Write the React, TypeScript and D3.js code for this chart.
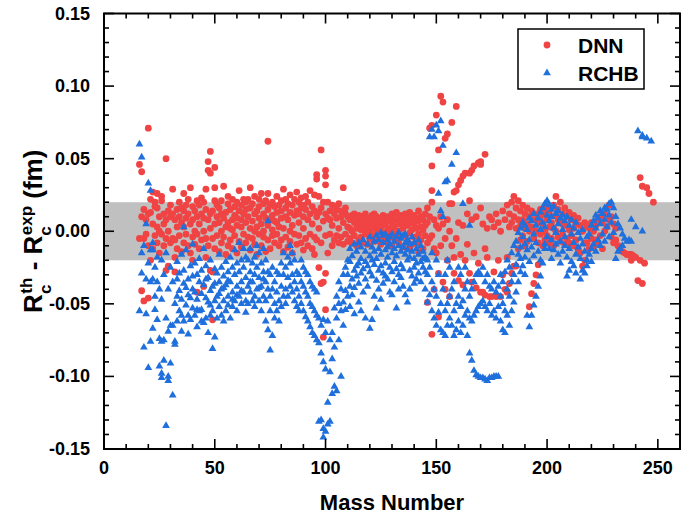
import React from 'react';
import * as d3 from 'd3';

// values, in units of 1e-3 fm, grouped by mass number
const dnnRows: [number, number[]][] = [
  [16, [46, -5]], [17, [41, -41, 10]], [18, [15, -48, -5]], [19, [-2, 8]], [20, [71, -46, 12, -10]],
  [21, [22, 13, -20]], [22, [27, 5, -12]], [23, [17, -3, 20]], [24, [26, 16, -8, 3]], [25, [10, -15, 0]],
  [26, [24, 21, -2]], [27, [5, -10, 12]], [28, [50, -27, 8, -5]], [29, [-24, 0, 14]], [30, [10, -8, 18]],
  [31, [-5, 12, 29]], [32, [-6, -18, -28, 8]], [33, [3, 15, -12]], [34, [20, -3, 10]], [35, [6, -14, 16]],
  [36, [26, 3, -8, 14]], [37, [-2, 18, 9]], [38, [12, -10, 22]], [39, [30, 5, -15]], [40, [8, -4, 17, -20]],
  [41, [14, 0, -9]], [42, [-42, 10, 21, -2]], [43, [5, 18, -12]], [44, [23, -6, 12]], [45, [-38, 9, 20, 0]],
  [46, [29, 15, -5, -18]], [47, [48, 42, 8, -10]], [48, [55, 40, -27, 12, 2]], [49, [-61, -28, 14, -5]], [50, [44, 30, 21, 5, -12]],
  [51, [10, -3, 18]], [52, [16, -14, 6]], [53, [21, 0, -8, 12]], [54, [31, 9, -4]], [55, [13, -16, 3]],
  [56, [19, 6, -10, 24]], [57, [2, 15, -6]], [58, [22, -12, 8, 1]], [59, [11, -3, 17]], [60, [20, 4, -15, 9]],
  [61, [14, -7, 28]], [62, [3, 18, -11, 8]], [63, [12, -2, 22]], [64, [20, 6, -8, 15]], [65, [-4, 10, 22]],
  [66, [16, -13, 2, 30]], [67, [7, 19, -5]], [68, [24, -9, 12, 0]], [69, [14, 3, -16]], [70, [22, -2, 9, 17]],
  [71, [5, 26, -10]], [72, [19, 12, -4, 0]], [73, [9, 21, -14]], [74, [62, 26, 15, -6, 4]], [75, [18, 8, -12]],
  [76, [20, -3, 11, 1]], [77, [7, 17, -8]], [78, [24, 13, -2, 6]], [79, [18, -10, 3]], [80, [21, 9, -6, 14]],
  [81, [29, 2, -14]], [82, [16, -4, 10, 22]], [83, [8, -11, 19]], [84, [25, 13, 0, -7]], [85, [18, 4, -15]],
  [86, [22, -2, 11]], [87, [14, 27, -9]], [88, [20, 6, -3, 12]], [89, [16, -8, 23]], [90, [10, 2, -13, 18]],
  [91, [15, -5, 24]], [92, [20, 8, -10]], [93, [12, -2, 28]], [94, [17, 5, -12]], [95, [25, 14, -4, -16]],
  [96, [36, 39, 10, -6]], [97, [24, -25, 13, 2]], [98, [56, -36, 16, -8]], [99, [-73, -35, 7, 20]], [100, [42, 38, 32, -54, 12, -3, -29]],
  [101, [9, -15, 20]], [102, [14, -2, 8]], [103, [18, 4, -10]], [104, [12, -6, 17]], [105, [9, 15, -3]],
  [106, [19, 2, -8]], [107, [14, -4, 10]], [108, [30, 6, -9]], [109, [12, -2, 16]], [110, [10, 3, -7]],
  [111, [8, -5, 2]], [112, [11, 0, -8]], [113, [6, -3, 12]], [114, [9, 2, -10]], [115, [5, -6, 11]],
  [116, [10, 1, -4, 6]], [117, [4, -8, 9]], [118, [7, -2, 12, 0]], [119, [3, -9, 8]], [120, [9, 0, -5, 5]],
  [121, [6, -3, 11]], [122, [2, -7, 8, 12]], [123, [5, -2, 10]], [124, [8, 1, -6, 4]], [125, [3, -9, 9]],
  [126, [6, -1, 11, -4]], [127, [4, -6, 8]], [128, [7, 0, -8, 10]], [129, [2, -4, 9]], [130, [6, -10, 12, 1]],
  [131, [3, -5, 8]], [132, [9, -2, 13]], [133, [0, -8, 5]], [134, [7, -4, 11]], [135, [2, -11, 6]],
  [136, [8, -3, 12]], [137, [4, -7, 10]], [138, [6, -1, 13, -12]], [139, [1, -9, 8]], [140, [5, -4, 11]],
  [141, [2, -8, 9]], [142, [7, -2, 14, -14]], [143, [3, -6, 10]], [144, [8, -12, 1]], [145, [4, -3, 12]],
  [146, [16, -49, 6, -8]], [147, [71, 10, -5]], [148, [73, 45, 28, 20, -71, -3]], [149, [-40, 8, -12]], [150, [80, -15, 4]],
  [151, [56, -29, -59, 2]], [152, [93, -10, 10]], [153, [89, -35, 5]], [154, [64, -40, -5]], [155, [67, -20, 8]],
  [156, [-45, 19, 0]], [157, [75, 19, -10]], [158, [27, -29, -18]], [159, [86, 28, -5]], [160, [32, -34, 6]],
  [161, [35, -16]], [162, [38, -37, 4]], [163, [40, -20]], [164, [-9, 12]], [165, [40, 21, -29]],
  [166, [42, -35, 8]], [167, [45, -15]], [168, [-39, 10]], [169, [47, -22]], [170, [48, 46, 16, -42]],
  [171, [-42, 5]], [172, [53, -44, -12]], [173, [2, -18]], [174, [-45, 10]], [175, [-45, 8]],
  [176, [-28, 3]], [177, [-45, 12]], [178, [-20, 6]], [179, [-45, 0]], [180, [-30, 14]],
  [181, [-40, 8]], [182, [-42, -18, 18]], [183, [-36, 12, 3]], [184, [-29, 20, 6]], [185, [24, -24, 10]],
  [186, [-24, 16, 2]], [187, [21, -12, 8]], [188, [14, 4, -6]], [189, [18, 8, -3]], [190, [12, 2, -10]],
  [191, [16, 5, -7]], [192, [-52, 10, 0]], [193, [-43, 14, 3]], [194, [-36, 8, -5]], [195, [-30, 12, 0]],
  [196, [-23, 6, -8]], [197, [10, -2, 15]], [198, [5, -10, 12]], [199, [14, 0, -6]], [200, [8, -3, 17]],
  [201, [12, -8, 3]], [202, [16, 6, -5]], [203, [18, 2, -10]], [204, [24, 11, 0]], [205, [15, -4, 8]],
  [206, [20, 6, -7]], [207, [12, -2, 5]], [208, [16, 4, -9]], [209, [10, -5]], [210, [13, 1, -8]],
  [211, [8, -3]], [212, [11, -10, 2]], [213, [5, -6]], [214, [9, -12]], [215, [4, -15]],
  [216, [-24, 0]], [217, [-20, -8, 6]], [218, [-8, 3]], [219, [2, -12]], [220, [-5, 6]],
  [221, [0, -10]], [222, [4, -6]], [223, [-8, 8]], [224, [-3, 10]], [225, [6, -12]],
  [226, [12, 0]], [227, [16, 3]], [228, [18, 8]], [229, [10, -4]], [230, [5, -8]],
  [231, [-6, 2]], [232, [-10]], [233, [-13]], [234, [-14]], [235, [-15]],
  [236, [-16]], [237, [-16]], [238, [-16, -20]], [239, [-17]], [240, [-18]],
  [241, [-34]], [242, [37, -20]], [243, [31, -36]], [244, [-22]], [245, [30]],
  [246, [26]], [248, [20]],
];

const rchbRows: [number, number[]][] = [
  [16, [60, -55]], [17, [51, -15, -29]], [18, [-80, -10]], [19, [-57, 5, -33]], [20, [33, -94, -22]],
  [21, [28, -35, -76, -13]], [22, [-13, -33, -67, -8]], [23, [-45, -54, -25]], [24, [-35, -61, -18]], [25, [-74, -93, -40]],
  [26, [-47, -76, -101, -98, -20]], [27, [-75, -89, -30]], [28, [-134, -60, -15]], [29, [-69, -100, -103, -40]], [30, [-65, -91, -25]],
  [31, [-65, -113, -35]], [32, [-76, -78, -50]], [33, [-45, -21, -62, -33]], [34, [-55, -41, -29]], [35, [-69, -47, -16, -58]],
  [36, [-36, -62, 3, -27]], [37, [-51, -39, -13]], [38, [-58, -71, -33, -44]], [39, [-46, -24, -61]], [40, [-53, -31, -9, -40]],
  [41, [-58, -42, -22]], [42, [-47, -66, -30, -54]], [43, [-35, -55, -19]], [44, [-54, -43, -27, -62]], [45, [-63, -37, -12]],
  [46, [-60, -46, -24, -33]], [47, [-49, -70, -32]], [48, [-41, -58, -20, -51]], [49, [-38, -81, -55]], [50, [-36, -73, -48, -26]],
  [51, [-45, -29, -60]], [52, [-52, -35, -16, -43]], [53, [-40, -58, -25]], [54, [-48, -31, -62, -39]], [55, [-37, -55, -21]],
  [56, [-45, -28, -51, -34]], [57, [-35, -60, -18]], [58, [-42, -25, -52, -47]], [59, [-30, -48, -13]], [60, [-38, -55, -22, -44]],
  [61, [-28, -45, -8]], [62, [-35, -50, -20, -41]], [63, [-25, -42, -12]], [64, [-32, -48, -18, -56]], [65, [-20, -38, -50]],
  [66, [-28, -12, -42, -35]], [67, [-35, -22, -48]], [68, [-18, -30, -45, -52]], [69, [-25, -40, -10]], [70, [-32, -48, -15, -39]],
  [71, [-38, -22, -55]], [72, [-28, -45, -12, -33]], [73, [-62, -35, -48, -20]], [74, [-68, 7, -40, -28]], [75, [-82, -55, -30, -45]],
  [76, [-72, -40, -25]], [77, [-60, -35, -50]], [78, [-55, -28, -42]], [79, [-48, -62, -30]], [80, [-38, -52, -22]],
  [81, [-45, -30, -15]], [82, [-40, -25, -50]], [83, [-32, -45, -18]], [84, [-38, -22, -10]], [85, [-30, -42, -15]],
  [86, [-35, -20, -48]], [87, [-40, -28, -52]], [88, [-45, -30, -55]], [89, [-50, -35, -20]], [90, [-55, -38, -25]],
  [91, [-59, -42, -28]], [92, [-62, -45, -30]], [93, [-66, -50, -35]], [94, [-70, -52, -38]], [95, [-72, -55, -40]],
  [96, [-75, -58, -42]], [97, [-77, -131, -60]], [98, [-84, -130, -65]], [99, [-142, -136, -61, -90]], [100, [-138, -95, -70]],
  [101, [-133, -118, -62]], [102, [-131, -97, -75]], [103, [-112, -70, -88]], [104, [-107, -53, -80]], [105, [-110, -60, -45]],
  [106, [-50, -75, -35]], [107, [-100, -55, -40]], [108, [-49, -30, -65]], [109, [-54, -41, -25]], [110, [-45, -30, -20]],
  [111, [-38, -21, -12, -52]], [112, [-33, -17, -44]], [113, [-27, -9, -39, -57]], [114, [-31, -14, -24]], [115, [-22, -36, -8, -49]],
  [116, [-19, -29, -11, -55]], [117, [-26, -6, -42]], [118, [-14, -33, -21, -60]], [119, [-9, -24, -38]], [120, [-17, -4, -28, -67]],
  [121, [-11, -31, -61, -20]], [122, [-7, -23, -45, -14]], [123, [-3, -19, -53, -34]], [124, [-12, -6, -27, -40]], [125, [-1, -16, -47, -24]],
  [126, [-8, -29, -3, -36]], [127, [-2, -13, -22, -31]], [128, [-6, -18, -33, -11]], [129, [-4, -25, -9, -42]], [130, [-15, -2, -28, -44]],
  [131, [-7, -21, -35, -12]], [132, [-4, -17, -53, -26]], [133, [-10, -1, -30, -40]], [134, [-5, -23, -14, -32]], [135, [-11, -3, -26, -38]],
  [136, [-2, -16, -8, -44]], [137, [-13, -20, -49, -6]], [138, [-9, -27, -18, -40]], [139, [-14, -4, -31]], [140, [-19, -8, -25, -36]],
  [141, [-12, -22, -33]], [142, [-16, -6, -29]], [143, [-21, -10, -35]], [144, [-25, -14, -19]], [145, [-18, -28, -40]],
  [146, [-49, -30, -20]], [147, [65, -44, -25]], [148, [70, -55, -35, -15]], [149, [65, -60, -40]], [150, [73, -65, -45, -20]],
  [151, [69, 26, -56, -30]], [152, [76, 14, -68, -50]], [153, [59, 10, -70, -40]], [154, [34, -72, -55, -30]], [155, [35, -65, -50, -20]],
  [156, [-60, -45, -25]], [157, [46, -65, -40]], [158, [-72, -55, -35]], [159, [54, -68, -50]], [160, [-62, -45, -25]],
  [161, [-70, -52, -30]], [162, [19, -65, -48]], [163, [-58, -40, -25]], [164, [-72, -55, -35]], [165, [4, -84, -60, -45]],
  [166, [-89, -62, -40]], [167, [-96, -58, -35]], [168, [-99, -55, -30]], [169, [-100, -52, -28]], [170, [-101, -50, -30]],
  [171, [-101, -48, -25]], [172, [-102, -52, -35]], [173, [-103, -55, -30]], [174, [-101, -50, -38]], [175, [-101, -58, -40]],
  [176, [-100, -55, -35]], [177, [-100, -60, -42]], [178, [-100, -52, -38]], [179, [-62, -45, -30]], [180, [-68, -50, -35]],
  [181, [-70, -55, -28]], [182, [-58, -40, -20]], [183, [-65, -45, -25]], [184, [-55, -35, -15]], [185, [-49, -30, -10]],
  [186, [-42, -23, -7]], [187, [-35, -16, -1]], [188, [-28, -11, 2, -19]], [189, [-24, -4, 6]], [190, [-18, -9, 4, -30]],
  [191, [-58, -13, 1]], [192, [-66, -6, 9, -21]], [193, [-58, -11, 7]], [194, [-51, -2, 12, -17]], [195, [-45, 4, -8]],
  [196, [-38, 9, -14]], [197, [-31, 13, 1, -20]], [198, [-22, 16, 6]], [199, [-12, 19, 3, -9]], [200, [21, 11, -4]],
  [201, [18, 7, -12]], [202, [15, 10, -6, -19]], [203, [17, 2, -13]], [204, [12, -1, -9]], [205, [14, 5, -16]],
  [206, [9, -7, -22]], [207, [11, 1, -14]], [208, [7, -10, -4]], [209, [10, -31, -18]], [210, [4, -12, -27]],
  [211, [8, -21, -2]], [212, [2, -8, -24]], [213, [6, -16, -29]], [214, [-1, -11]], [215, [-33, -19, -5]],
  [216, [-27, -9, 1]], [217, [-29, -14]], [218, [-20, -4, -24]], [219, [-16, -2]], [220, [-12, 4, -21]],
  [221, [-9, 7]], [222, [-14, 2, 11]], [223, [-6, 9]], [224, [-10, 5, 14]], [225, [-2, 12]],
  [226, [-7, 8, 16]], [227, [3, 15]], [228, [-4, 11, 19]], [229, [20, 6]], [230, [16, -1]],
  [231, [10, -19]], [232, [5, -14]], [233, [2, -12]], [234, [-2, -10]], [235, [-5]],
  [236, [-7]], [237, [-6]], [238, [-7, 8]], [240, [3]], [241, [69]],
  [243, [0, 65, 66]], [245, [64]], [247, [62]],
];

const xTicks = [0, 50, 100, 150, 200, 250];
const yTicks = [-0.15, -0.1, -0.05, 0, 0.05, 0.1, 0.15];
const bandLimits = [-0.02, 0.02];

const flatten = (rows: [number, number[]][]) =>
  rows.flatMap(([a, vs]) => vs.map(v => ({ a, v: v / 1000 })));

const RED = '#f04343';
const BLUE = '#1f6fdc';

export default function App() {
  const x = d3.scaleLinear().domain([0, 260]).range([104, 680]);
  const y = d3.scaleLinear().domain([-0.15, 0.15]).range([449, 13.5]);
  const dnn = flatten(dnnRows);
  const rchb = flatten(rchbRows);
  const tri = d3.symbol().type(d3.symbolTriangle).size(26)() as string;
  const xMinor = d3.range(0, 261, 10);
  const yMinor = d3.range(-15, 16).map(d => d / 100);
  const [x0, x1] = x.range();
  const [y0, y1] = y.range();
  const font = 'Liberation Sans, Arial, sans-serif';

  return (
    <svg width={691} height={518} style={{ position: 'absolute', left: 0, top: 0, background: '#fff' }}
      fontFamily={font} fontWeight="bold">
      <rect x={x0} y={y(bandLimits[1])} width={x1 - x0} height={y(bandLimits[0]) - y(bandLimits[1])} fill="#c0c0c0" />

      {dnn.map((d, i) => (
        <circle key={'r' + i} cx={x(d.a)} cy={y(d.v)} r={3.4} fill={RED} />
      ))}
      {rchb.map((d, i) => (
        <path key={'b' + i} d={tri} transform={`translate(${x(d.a)},${y(d.v)})`} fill={BLUE} />
      ))}

      {/* ticks, inward on all four sides */}
      <g stroke="#000" strokeWidth={1.6}>
        {xMinor.map(t => {
          const len = t % 50 === 0 ? 10 : 5;
          return (
            <g key={'xt' + t}>
              <line x1={x(t)} x2={x(t)} y1={y0} y2={y0 - len} />
              <line x1={x(t)} x2={x(t)} y1={y1} y2={y1 + len} />
            </g>
          );
        })}
        {yMinor.map(t => {
          const len = Math.round(t * 100) % 5 === 0 ? 10 : 5;
          return (
            <g key={'yt' + t}>
              <line x1={x0} x2={x0 + len} y1={y(t)} y2={y(t)} />
              <line x1={x1} x2={x1 - len} y1={y(t)} y2={y(t)} />
            </g>
          );
        })}
      </g>
      <rect x={x0} y={y1} width={x1 - x0} height={y0 - y1} fill="none" stroke="#000" strokeWidth={2} />

      {xTicks.map(t => (
        <text key={'xl' + t} x={x(t)} y={y0 + 25} textAnchor="middle" fontSize={18}>{t}</text>
      ))}
      {yTicks.map(t => (
        <text key={'yl' + t} x={x0 - 14} y={y(t) + 6} textAnchor="end" fontSize={18}>{t.toFixed(2)}</text>
      ))}

      <text x={(x0 + x1) / 2} y={510} textAnchor="middle" fontSize={22}>Mass Number</text>
      <text transform={`translate(42,${(y0 + y1) / 2}) rotate(-90)`} textAnchor="middle" fontSize={26}>
        <tspan>R</tspan>
        <tspan fontSize={17} dy={9}>c</tspan>
        <tspan fontSize={17} dx={-9} dy={-19}>th</tspan>
        <tspan dy={10}> - R</tspan>
        <tspan fontSize={17} dy={9}>c</tspan>
        <tspan fontSize={17} dx={-9} dy={-19}>exp</tspan>
        <tspan dy={10}> (fm)</tspan>
      </text>

      <g>
        <rect x={518} y={29} width={126} height={60} fill="#fff" stroke="#000" strokeWidth={1.5} />
        <circle cx={547} cy={45} r={3.4} fill={RED} />
        <path d={tri} transform="translate(547,73)" fill={BLUE} />
        <text x={578} y={53} fontSize={21}>DNN</text>
        <text x={578} y={81} fontSize={21}>RCHB</text>
      </g>
    </svg>
  );
}
